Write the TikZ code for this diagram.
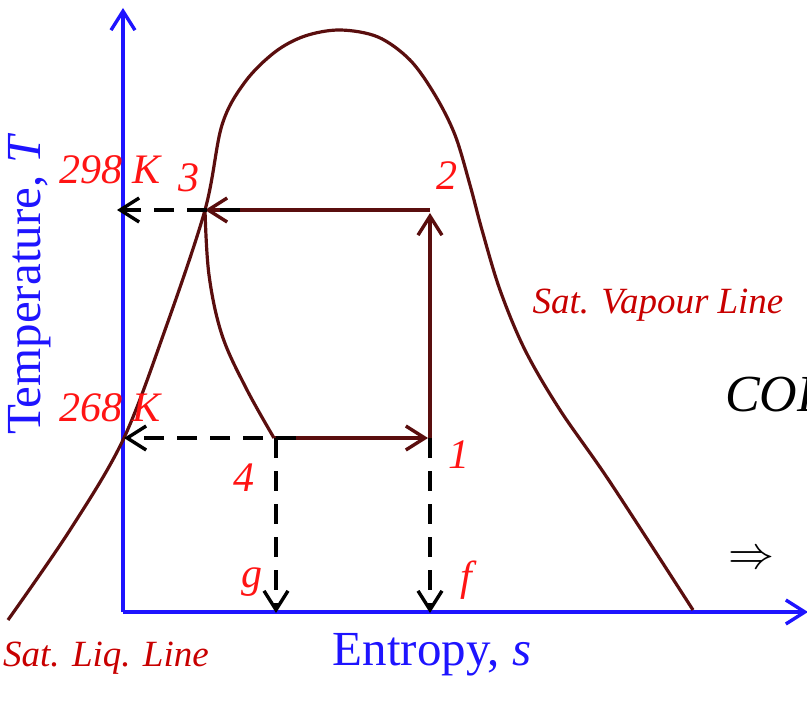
\documentclass[tikz,border=0pt]{standalone}
\usepackage{fontspec}
\setmainfont{Liberation Serif}
\usetikzlibrary{arrows.meta}
\definecolor{dome}{RGB}{90,14,14}
\definecolor{axisblue}{RGB}{30,20,255}
\definecolor{lblred}{RGB}{255,20,20}
\definecolor{satred}{RGB}{200,0,0}
\tikzset{
  barb/.style={-{Straight Barb[length=19pt,width=24pt,line width=3.4pt]}},
  axisline/.style={axisblue,line width=4pt,barb},
  cycleline/.style={dome,line width=3.2pt,barb},
  projline/.style={black,line width=3.6pt,dash pattern=on 20pt off 13pt,barb},
  domeline/.style={dome,line width=3.2pt},
  ptlbl/.style={lblred,font=\fontsize{42}{42}\selectfont\itshape,inner sep=0pt},
  satlbl/.style={satred,font=\fontsize{37}{37}\selectfont\itshape,inner sep=0pt},
  axlbl/.style={axisblue,font=\fontsize{49}{49}\selectfont,inner sep=0pt},
}
\begin{document}
\begin{tikzpicture}[x=1pt,y=-1pt]
\useasboundingbox (0,0) rectangle (807,706);
\clip (0,0) rectangle (807,706);
% key points
\coordinate (O) at (123,612);
\coordinate (Ytip) at (123,8);
\coordinate (Xtip) at (808,612);
\coordinate (p3) at (205,210);
\coordinate (p2) at (430,210);
\coordinate (p1) at (430,438);
\coordinate (p4) at (274,438);
\coordinate (p2b) at (430,213);
\coordinate (p1b) at (428,438);
\coordinate (p3s) at (240,210);
\coordinate (p4s) at (296,438);
\coordinate (t298) at (117,210);
\coordinate (t268) at (124,438);
\coordinate (g0) at (276,438);
\coordinate (g) at (276,613);
\coordinate (f) at (430,613);
% axes
\draw[axisline] (O) -- (Ytip);
\draw[axisline] (O) -- (Xtip);
% saturation dome
\draw[domeline] plot[smooth,tension=0.55] coordinates {
 (8,620) (70,530) (123,440) (165,330) (205,210) (222,125) (245,82) (275,52)
 (305,36) (340,30) (378,37) (410,60) (435,95) (455,135) (470,185) (482,230)
 (500,290) (525,350) (560,410) (610,482) (693,610)};
% 3 -> 4 throttling
\draw[domeline] plot[smooth,tension=0.6] coordinates {(p3) (209,275) (222,335) (246,388) (p4)};
% cycle
\draw[cycleline] (p2) -- (p3);
\draw[cycleline] (p1) -- (p2b);
\draw[cycleline] (p4) -- (p1b);
% projections
\draw[projline] (p3s) -- (t298);
\draw[projline] (p4s) -- (t268);
\draw[projline] (g0) -- (g);
\draw[projline] (p1) -- (f);
% labels
\node[ptlbl] (l298) at (110,170) {298 K};
\node[ptlbl] (l3) at (189,178) {3};
\node[ptlbl] (l2) at (447,176) {2};
\node[ptlbl] (l268) at (110,408) {268 K};
\node[ptlbl] (l4) at (244,478) {4};
\node[ptlbl] (l1) at (459,455) {1};
\node[ptlbl] (lg) at (252,582) {g};
\node[ptlbl] (lf) at (466,580) {f};
\node[satlbl] (svl) at (658,305) {Sat. Vapour Line};
\node[satlbl] (sll) at (106,658) {Sat. Liq. Line};
\node[axlbl] (xl) at (432,655) {Entropy, \textit{s}};
\node[axlbl,rotate=90] (yl) at (30,284) {Temperature, \textit{T}};
\node[black,font=\fontsize{52}{52}\selectfont\itshape,inner sep=0pt,anchor=west] (cop) at (725,395) {COP};
\node[black,inner sep=0pt] (impl) at (751,560) {\scalebox{4.6}{$\Rightarrow$}};
\end{tikzpicture}
\end{document}
